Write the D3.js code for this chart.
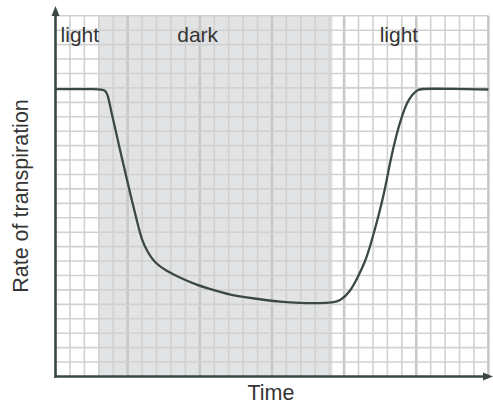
<!DOCTYPE html>
<html>
<head>
<meta charset="utf-8">
<script src="https://cdn.jsdelivr.net/npm/d3@7"></script>
<style>
  html, body { margin: 0; padding: 0; background: #fff; }
  svg { display: block; }
  text { font-family: "Liberation Sans", Arial, Helvetica, sans-serif; fill: #353535; }
</style>
</head>
<body>
<svg id="chart" width="493" height="404"></svg>
<script>
// ---- data (grid units: time 0–30, rate 0–25) ----
const time = [0, 3.08, 3.43, 3.64, 3.85, 4.47, 5.28, 5.63, 5.97, 6.41, 6.9, 7.6, 8.63, 9.79, 10.91, 12.09, 13.48, 14.17, 15.56, 16.94, 18.33, 19.23, 19.72, 20.41, 20.96, 21.45, 21.79, 22.35, 22.83, 23.18, 23.65, 23.99, 24.34, 24.68, 25.12, 25.6, 30];
const rate = [19.92, 19.92, 19.86, 19.5, 18.4, 15.7, 12.23, 10.85, 9.46, 8.56, 7.87, 7.37, 6.83, 6.34, 6.0, 5.65, 5.44, 5.35, 5.18, 5.09, 5.07, 5.13, 5.23, 5.86, 6.9, 7.93, 8.97, 10.98, 12.92, 14.86, 16.87, 17.98, 18.95, 19.5, 19.92, 19.96, 19.89];
const phaseLabels = ["light", "dark", "light"];
const phaseStart = [0, 3, 19.2];
const phaseEnd = [3, 19.2, 30];
const xTitle = "Time";
const yTitle = "Rate of transpiration";

// ---- layout ----
const svg = d3.select("#chart");
const x = d3.scaleLinear().domain([0, 30]).range([55.5, 488.4]);
const y = d3.scaleLinear().domain([0, 25]).range([376.5, 15.75]);

// shaded dark phase
svg.append("g").selectAll("rect")
  .data(phaseLabels.map((l, i) => ({ l, s: phaseStart[i], e: phaseEnd[i] })).filter(d => d.l === "dark"))
  .join("rect")
  .attr("x", d => x(d.s)).attr("y", y(25))
  .attr("width", d => x(d.e) - x(d.s)).attr("height", y(0) - y(25))
  .attr("fill", "#e2e3e5");

// grid
const g = svg.append("g");
g.selectAll("line.v").data(d3.range(1, 31)).join("line")
  .attr("class", "v")
  .attr("x1", d => x(d)).attr("x2", d => x(d))
  .attr("y1", y(0)).attr("y2", y(25))
  .attr("stroke", d => d % 5 === 0 ? "#c8c8c8" : "#d1d1d1")
  .attr("stroke-width", d => d % 5 === 0 ? 2.6 : 1.6);
g.selectAll("line.h").data(d3.range(1, 26)).join("line")
  .attr("class", "h")
  .attr("y1", d => y(d)).attr("y2", d => y(d))
  .attr("x1", x(0)).attr("x2", x(30))
  .attr("stroke", "#d1d1d1")
  .attr("stroke-width", 1.6);

// phase labels (placement in grid units)
const labelAt = [0.35, 9.85, 23.8];
svg.append("g").selectAll("text").data(phaseLabels).join("text")
  .attr("x", (d, i) => x(labelAt[i]))
  .attr("y", 41.5)
  .attr("text-anchor", (d, i) => i === 0 ? "start" : "middle")
  .attr("font-size", 21)
  .text(d => d);

// curve
const line = d3.line().x((d, i) => x(time[i])).y((d, i) => y(rate[i])).curve(d3.curveBasis);
svg.append("path").datum(time)
  .attr("d", line)
  .attr("fill", "none")
  .attr("stroke", "#3b4945")
  .attr("stroke-width", 2.3);

// axes with arrows
const axisColor = "#3b4945";
svg.append("line")
  .attr("x1", x(0)).attr("x2", x(0))
  .attr("y1", y(0) + 1.2).attr("y2", 14)
  .attr("stroke", axisColor).attr("stroke-width", 2.6);
svg.append("line")
  .attr("x1", x(0) - 1.2).attr("x2", 486)
  .attr("y1", y(0)).attr("y2", y(0))
  .attr("stroke", axisColor).attr("stroke-width", 2.6);
svg.append("path")
  .attr("d", `M${x(0)},6 L${x(0) - 4},16 L${x(0) + 4},16 Z`)
  .attr("fill", axisColor);
svg.append("path")
  .attr("d", `M493,${y(0)} L483,${y(0) - 4} L483,${y(0) + 4} Z`)
  .attr("fill", axisColor);

// axis titles
svg.append("text")
  .attr("x", 271).attr("y", 399.5)
  .attr("text-anchor", "middle")
  .attr("font-size", 21.5)
  .text(xTitle);
svg.append("text")
  .attr("transform", `translate(28,196) rotate(-90)`)
  .attr("text-anchor", "middle")
  .attr("font-size", 21.5)
  .text(yTitle);
</script>
</body>
</html>
